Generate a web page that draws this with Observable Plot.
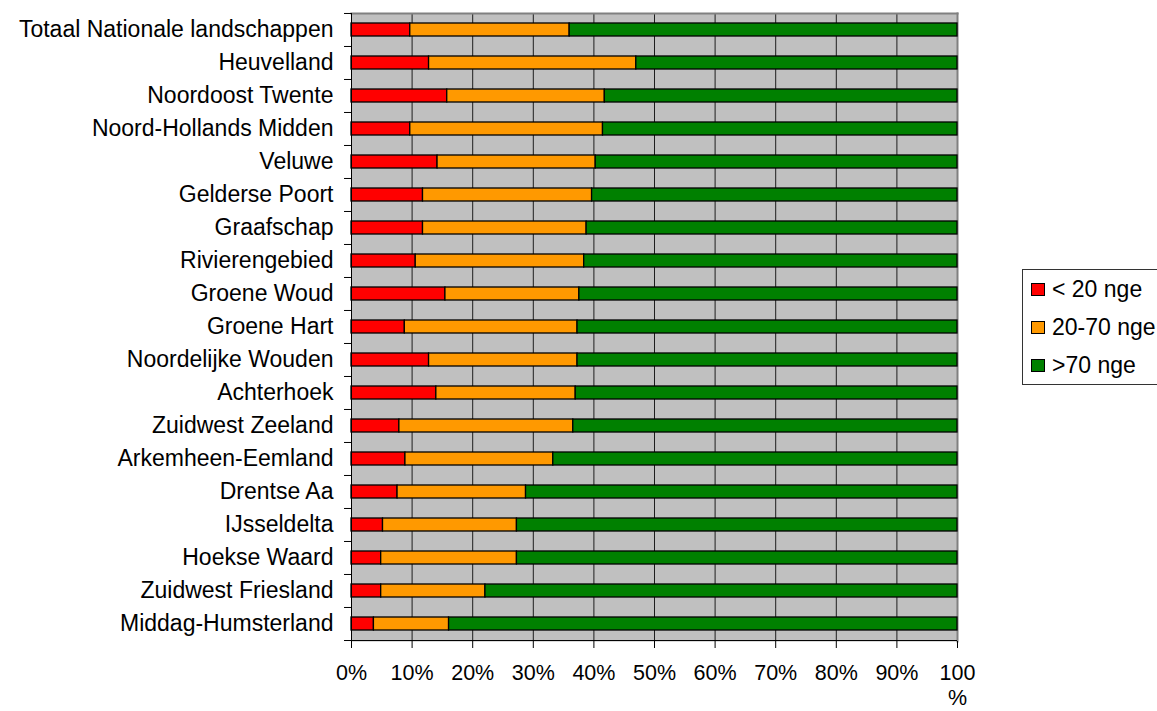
<!DOCTYPE html>
<html>
<head>
<meta charset="utf-8">
<script src="https://cdn.jsdelivr.net/npm/d3@7"></script>
<script src="https://cdn.jsdelivr.net/npm/@observablehq/plot@0.6"></script>
<style>
  html, body { margin: 0; padding: 0; background: #fff; }
  #wrap { position: relative; width: 1157px; height: 711px; overflow: hidden; font-family: "Liberation Sans", Arial, sans-serif; }
  #legend { position: absolute; left: 1022px; top: 269px; width: 160px; height: 116px; border: 1px solid #333; box-sizing: border-box; background: #fff; }
  .item { position: absolute; left: 8px; font-size: 23px; color: #000; white-space: nowrap; line-height: 26px; height: 26px; }
  .sw { display: inline-block; width: 12px; height: 11px; border: 1px solid #000; margin-right: 7px; vertical-align: 1px; }
</style>
</head>
<body>
<div id="wrap"></div>
<script>
const categories = [
  "Totaal Nationale landschappen", "Heuvelland", "Noordoost Twente", "Noord-Hollands Midden",
  "Veluwe", "Gelderse Poort", "Graafschap", "Rivierengebied", "Groene Woud", "Groene Hart",
  "Noordelijke Wouden", "Achterhoek", "Zuidwest Zeeland", "Arkemheen-Eemland", "Drentse Aa",
  "IJsseldelta", "Hoekse Waard", "Zuidwest Friesland", "Middag-Humsterland"
];
const seriesNames = ["< 20 nge", "20-70 nge", ">70 nge"];
const seriesColors = ["#ff0000", "#ff9900", "#008000"];
const small = [9.7, 12.8, 15.8, 9.7, 14.2, 11.8, 11.8, 10.6, 15.5, 8.8, 12.8, 14.0, 7.9, 8.9, 7.6, 5.2, 4.9, 4.9, 3.7];
const medium = [26.3, 34.2, 26.0, 31.8, 26.1, 27.9, 27.0, 27.8, 22.1, 28.5, 24.5, 23.0, 28.7, 24.4, 21.2, 22.1, 22.4, 17.2, 12.4];
const large = [64.0, 53.0, 58.2, 58.5, 59.7, 60.3, 61.2, 61.6, 62.4, 62.7, 62.7, 63.0, 63.4, 66.7, 71.2, 72.7, 72.7, 77.9, 83.9];
const xTicks = [0, 10, 20, 30, 40, 50, 60, 70, 80, 90, 100];

const values = [small, medium, large];
const data = [];
categories.forEach((c, i) => {
  seriesNames.forEach((s, j) => data.push({cat: c, series: s, value: values[j][i]}));
});

const H = 711, mTop = 13, mBottom = 70;
const step = (H - mTop - mBottom) / categories.length;
const lastCat = categories[categories.length - 1];
const FS = 23;
const FSX = 21.5;

const chart = Plot.plot({
  width: 1157,
  height: H,
  marginLeft: 351,
  marginRight: 200,
  marginTop: mTop,
  marginBottom: mBottom,
  style: {fontFamily: "'Liberation Sans', Arial, sans-serif", fontSize: FS + "px", color: "#000", background: "#fff", overflow: "visible"},
  x: {domain: [0, 100]},
  y: {domain: categories, paddingInner: 0.6, paddingOuter: 0.3},
  color: {domain: seriesNames, range: seriesColors},
  marks: [
    Plot.frame({fill: "#c0c0c0", stroke: null}),
    Plot.ruleX(xTicks.slice(1, -1), {stroke: "#000", strokeWidth: 1, strokeOpacity: 0.85}),
    Plot.frame({anchor: "top", stroke: "#808080", strokeWidth: 2}),
    Plot.frame({anchor: "right", stroke: "#808080", strokeWidth: 2}),
    Plot.barX(data, Plot.stackX({y: "cat", x: "value", fill: "series", stroke: "#000", strokeWidth: 1.3, order: null})),
    Plot.ruleX([0], {stroke: "#000", strokeWidth: 1}),
    Plot.ruleY(categories, {y: d => d, x1: -1.15, x2: 0, dy: -step / 2, stroke: "#000", strokeWidth: 1}),
    Plot.ruleY([lastCat], {y: d => d, x1: -1.15, x2: 0, dy: step / 2, stroke: "#000", strokeWidth: 1}),
    Plot.ruleY([lastCat], {y: d => d, x1: 0, x2: 100, dy: step / 2, stroke: "#000", strokeWidth: 1}),
    Plot.axisY({label: null, tickSize: 0, tickPadding: 18, fontSize: FS}),
    Plot.axisX({ticks: xTicks, label: null, tickSize: 7, tickPadding: 16, fontSize: FSX,
      tickFormat: d => d === 100 ? "100" : d + "%"}),
    Plot.text(["%"], {x: () => 100, frameAnchor: "bottom", lineAnchor: "middle", dy: 57, fontSize: FSX, fill: "#000"})
  ]
});

const wrap = document.getElementById("wrap");
wrap.appendChild(chart);

const legend = document.createElement("div");
legend.id = "legend";
const itemTops = [6, 44, 82];
seriesNames.forEach((s, i) => {
  const it = document.createElement("div");
  it.className = "item";
  it.style.top = itemTops[i] + "px";
  it.innerHTML = `<span class="sw" style="background:${seriesColors[i]}"></span>${s.replace(/</g, "&lt;").replace(/>/g, "&gt;")}`;
  legend.appendChild(it);
});
wrap.appendChild(legend);
</script>
</body>
</html>
